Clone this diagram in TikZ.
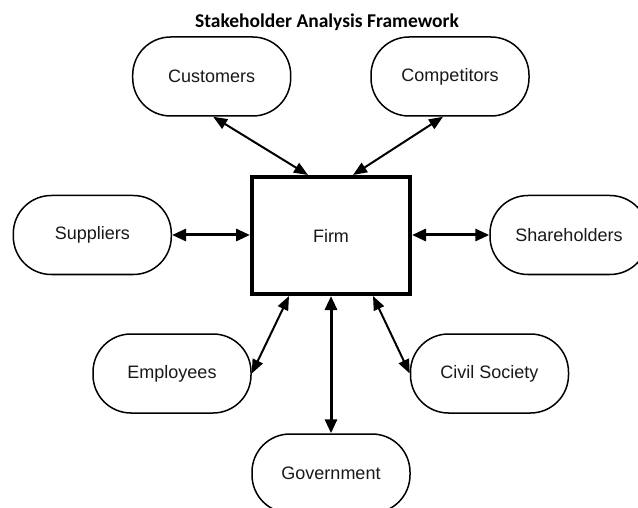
\documentclass[tikz,border=0pt]{standalone}
\usepackage{fontspec}
\setmainfont{Liberation Sans}
\newfontfamily\titlefont{Carlito}
\usetikzlibrary{arrows.meta,calc}
\tikzset{
  stake/.style={draw=black, line width=1.5pt, rounded corners=38pt, minimum width=158pt, minimum height=79pt, inner sep=0pt, font=\fontsize{18}{20}\selectfont, text=black!90},
  firmbox/.style={draw=black, line width=4pt, minimum width=158pt, minimum height=117pt, inner sep=0pt, font=\fontsize{18}{20}\selectfont, text=black!90},
  thinlink/.style={line width=2pt, {Triangle[length=14pt,width=11pt]}-{Triangle[length=14pt,width=11pt]}},
  thicklink/.style={line width=3pt, {Triangle[length=14pt,width=12pt]}-{Triangle[length=14pt,width=12pt]}}
}
\begin{document}
\begin{tikzpicture}[x=1pt,y=-1pt]
\clip (0,0) rectangle (638,508);
\fill[white] (0,0) rectangle (638,508);
\node[font=\titlefont\bfseries\fontsize{19.5}{22}\selectfont, anchor=base] (title) at (327,28) {Stakeholder Analysis Framework};
\node[firmbox] (firm) at (331,235.5) {Firm};
\node[stake] (cust) at (211.7,76.5) {Customers};
\node[stake] (comp) at (450,76.5) {Competitors};
\node[stake] (supp) at (92.3,235) {Suppliers};
\node[stake] (share) at (569,235) {Shareholders};
\node[stake] (emp) at (172,373.5) {Employees};
\node[stake] (civ) at (489.5,373.5) {Civil Society};
\node[stake] (gov) at (331,473.5) {Government};
\draw[thinlink] ($(cust.south)+(1.5,0)$) -- ($(firm.north)+(-23,0)$);
\draw[thinlink] ($(comp.south)+(-7,0)$) -- ($(firm.north)+(22,0)$);
\draw[thicklink] (supp.east) -- (firm.west |- supp.east);
\draw[thicklink] (firm.east |- share.west) -- (share.west);
\draw[thinlink] ($(firm.south)+(-42,0)$) -- (emp.east);
\draw[thinlink] ($(firm.south)+(42,0)$) -- (civ.west);
\draw[thicklink] (firm.south) -- (gov.north);
\end{tikzpicture}
\end{document}
